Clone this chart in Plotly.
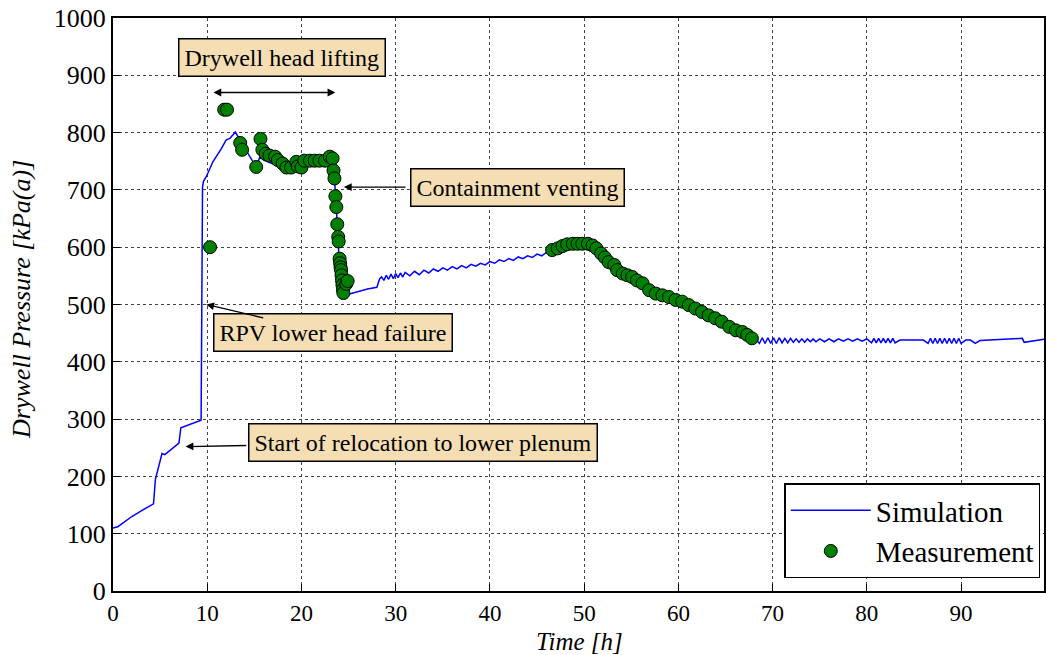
import plotly.graph_objects as go

# Simulation (time [h], pressure [kPa(a)])
sim_t = [0, 0.5, 1, 2, 3, 4, 4.3, 4.5, 5.0, 5.2, 5.5, 6.0, 7.0, 7.2, 8.0, 9.0, 9.35, 9.5, 9.6, 9.9,
         10.6, 11.5, 12.0, 12.4, 13.0, 13.45, 14.5, 15.2, 15.6, 16.0, 17.0, 18.0, 23.3, 23.5, 23.7,
         23.9, 24.1, 24.4, 25.0, 27.0, 28.0, 28.3,
         28.5, 28.75, 29, 29.25, 29.5, 29.75, 30, 30.25, 30.5, 30.75, 31, 31.5, 32, 32.5, 33, 33.5,
         34, 34.5, 35, 35.5, 36, 36.5, 37, 37.5, 38, 38.5, 39, 39.5, 40, 40.5, 41, 41.5, 42, 42.5,
         43, 43.5, 44, 44.5, 45, 45.5, 46, 47,
         48, 49.5, 50.5, 51.5, 53, 55, 56.5, 58, 60, 62, 64, 66, 67.5, 68.3,
         68.6, 68.9, 69.2, 69.5, 69.8, 70.1, 70.4, 70.7, 71.0, 71.3, 71.6, 71.9, 72.2, 72.5, 72.8,
         73.1, 73.4, 73.7, 74.0, 74.3, 74.6, 75.0,
         75.5, 76, 76.5, 77, 77.5, 78, 78.5, 79, 79.5, 80,
         80.5, 80.75, 81, 81.25, 81.5, 81.75, 82, 82.25, 82.5, 82.75, 83, 83.5, 84, 86,
         86.5, 86.75, 87, 87.25, 87.5, 87.75, 88, 88.25, 88.5, 88.75, 89, 89.25, 89.5, 89.75, 90, 90.5,
         91, 91.5, 92, 94, 96.5, 96.7, 99]
sim_p = [110, 112, 118, 130, 140, 150, 152, 195, 230, 240, 238, 245, 258, 285, 290, 296, 298, 705, 715, 723,
         749, 772, 787, 790, 801, 787, 760, 740, 758, 752, 745, 742, 742, 720, 670,
         600, 545, 516, 518, 527, 530, 545,
         548, 542, 551, 544, 553, 545, 554, 547, 555, 548, 556, 550, 558, 552, 560, 555,
         562, 558, 564, 560, 566, 562, 568, 564, 570, 567, 572, 569, 575, 572, 578, 575, 580, 577,
         583, 580, 585, 582, 588, 585, 591, 594,
         600, 605, 604, 595, 572, 547, 530, 516, 505, 490, 474, 456, 445, 438,
         432, 442, 432, 442, 432, 442, 432, 442, 433, 441, 433, 441, 434, 440, 434,
         440, 434, 440, 435, 440, 435, 440,
         435, 440, 435, 440, 436, 440, 436, 440, 436, 440,
         433, 441, 433, 441, 433, 441, 433, 441, 433, 441, 433, 438, 438, 438,
         432, 441, 432, 441, 432, 441, 432, 441, 432, 441, 432, 441, 432, 441, 432, 438,
         438, 432, 437, 439, 441, 434, 440]

# Measurement
meas_t = [10.3, 11.8, 12.1, 13.5, 13.7, 15.2, 15.65, 15.85, 16.2, 16.6, 17.2, 17.5, 18.0, 18.4,
          18.9, 19.45, 19.6, 20.0, 20.3, 20.9, 21.4, 21.9, 22.5, 23.0, 23.3, 23.4, 23.5, 23.6,
          23.7, 23.8, 23.9, 23.95, 24.05, 24.1, 24.15, 24.2, 24.25, 24.3, 24.35, 24.4, 24.45,
          24.75, 24.9,
          46.6, 47.2, 47.7, 48.2, 48.8, 49.3, 49.8, 50.4, 50.9, 51.3, 51.8, 52.2, 52.6, 53.2,
          53.5, 54.1, 54.6, 55.1, 55.6, 56.2, 56.9, 57.6, 58.3, 59.0, 59.7, 60.4, 61.1, 61.8,
          62.5, 63.2, 63.9, 64.6, 65.4, 66.1, 66.8, 67.3, 67.8]
meas_p = [600, 840, 840, 782, 770, 740, 789, 770, 763, 760, 758, 752, 746, 739,
          739, 749, 741, 739, 751, 751, 751, 751, 751, 758, 755, 734, 720, 689,
          670, 640, 618, 610, 580, 572, 565, 560, 551, 542, 534, 526, 520,
          536, 541,
          595, 598, 602, 605, 606, 606, 606, 606, 603, 598, 589, 582, 574, 569,
          560, 554, 551, 548, 542, 537, 525, 519, 516, 513, 508, 505, 499, 493,
          487, 481, 476, 470, 461, 455, 452, 447, 441]

x_ticks = [0, 10, 20, 30, 40, 50, 60, 70, 80, 90]
y_ticks = [0, 100, 200, 300, 400, 500, 600, 700, 800, 900, 1000]

FONT = "Liberation Serif"

fig = go.Figure()
fig.add_trace(go.Scatter(x=sim_t, y=sim_p, mode="lines", name="Simulation",
                         line=dict(color="#0000ff", width=1.5)))
fig.add_trace(go.Scatter(x=meas_t, y=meas_p, mode="markers", name="Measurement",
                         marker=dict(color="#008000", size=13,
                                     line=dict(color="black", width=1))))

box = dict(bgcolor="#f5deb3", bordercolor="black", borderwidth=1.5, borderpad=5,
           font=dict(family=FONT, size=24, color="black"), showarrow=False)

annotations = [
    dict(x=17.9, y=931, xref="x", yref="y", text="Drywell head lifting", **box),
    dict(x=42.9, y=705, xref="x", yref="y", text="Containment venting", **box),
    dict(x=23.3, y=452, xref="x", yref="y", text="RPV lower head failure", **box),
    dict(x=32.9, y=260, xref="x", yref="y", text="Start of relocation to lower plenum", **box),
    # arrows
    dict(x=23.6, y=870, ax=10.5, ay=870, xref="x", yref="y", axref="x", ayref="y", text="",
         showarrow=True, arrowhead=2, arrowside="end+start", arrowwidth=1.3, arrowsize=1.2,
         arrowcolor="black"),
    dict(x=24.5, y=705, ax=31.2, ay=705, xref="x", yref="y", axref="x", ayref="y", text="",
         showarrow=True, arrowhead=2, arrowwidth=1.3, arrowsize=1.2, arrowcolor="black"),
    dict(x=9.9, y=500, ax=16.1, ay=476, xref="x", yref="y", axref="x", ayref="y", text="",
         showarrow=True, arrowhead=2, arrowwidth=1.3, arrowsize=1.2, arrowcolor="black"),
    dict(x=7.7, y=252, ax=14.3, ay=254, xref="x", yref="y", axref="x", ayref="y", text="",
         showarrow=True, arrowhead=2, arrowwidth=1.3, arrowsize=1.2, arrowcolor="black"),
    # axis titles
    dict(x=0.5016, y=-0.0875, xref="paper", yref="paper", text="<i>Time [h]</i>",
         showarrow=False, xanchor="center", yanchor="middle",
         font=dict(family=FONT, size=25, color="black")),
    dict(x=-0.0977, y=0.508, xref="paper", yref="paper", text="<i>Drywell Pressure [kPa(a)]</i>",
         showarrow=False, xanchor="center", yanchor="middle", textangle=-90,
         font=dict(family=FONT, size=26, color="black")),
]

axis_common = dict(showgrid=True, gridcolor="#444", griddash="dot", gridwidth=1,
                   showline=True, linecolor="black", linewidth=2, mirror=True,
                   ticks="inside", ticklen=7, tickcolor="black", zeroline=False,
                   automargin=False)

fig.update_layout(
    width=1046, height=655,
    margin=dict(l=113, r=2, t=18, b=64, autoexpand=False),
    paper_bgcolor="white", plot_bgcolor="white",
    font=dict(family=FONT, color="black"),
    xaxis=dict(range=[0, 98.8], tickvals=x_ticks,
               tickfont=dict(family=FONT, size=23, color="black"), **axis_common),
    yaxis=dict(range=[0, 1000], tickvals=y_ticks,
               tickfont=dict(family=FONT, size=26, color="black"), **axis_common),
    legend=dict(x=0.996, y=0.022, xanchor="right", yanchor="bottom",
                bgcolor="white", bordercolor="black", borderwidth=1.5,
                font=dict(family=FONT, size=29, color="black"), itemwidth=80,
                tracegroupgap=0),
    annotations=annotations,
    showlegend=True,
)

fig.write_html("out.html", config={"displayModeBar": False},
               post_script="document.body.style.margin='0';document.body.style.overflow='hidden';")
